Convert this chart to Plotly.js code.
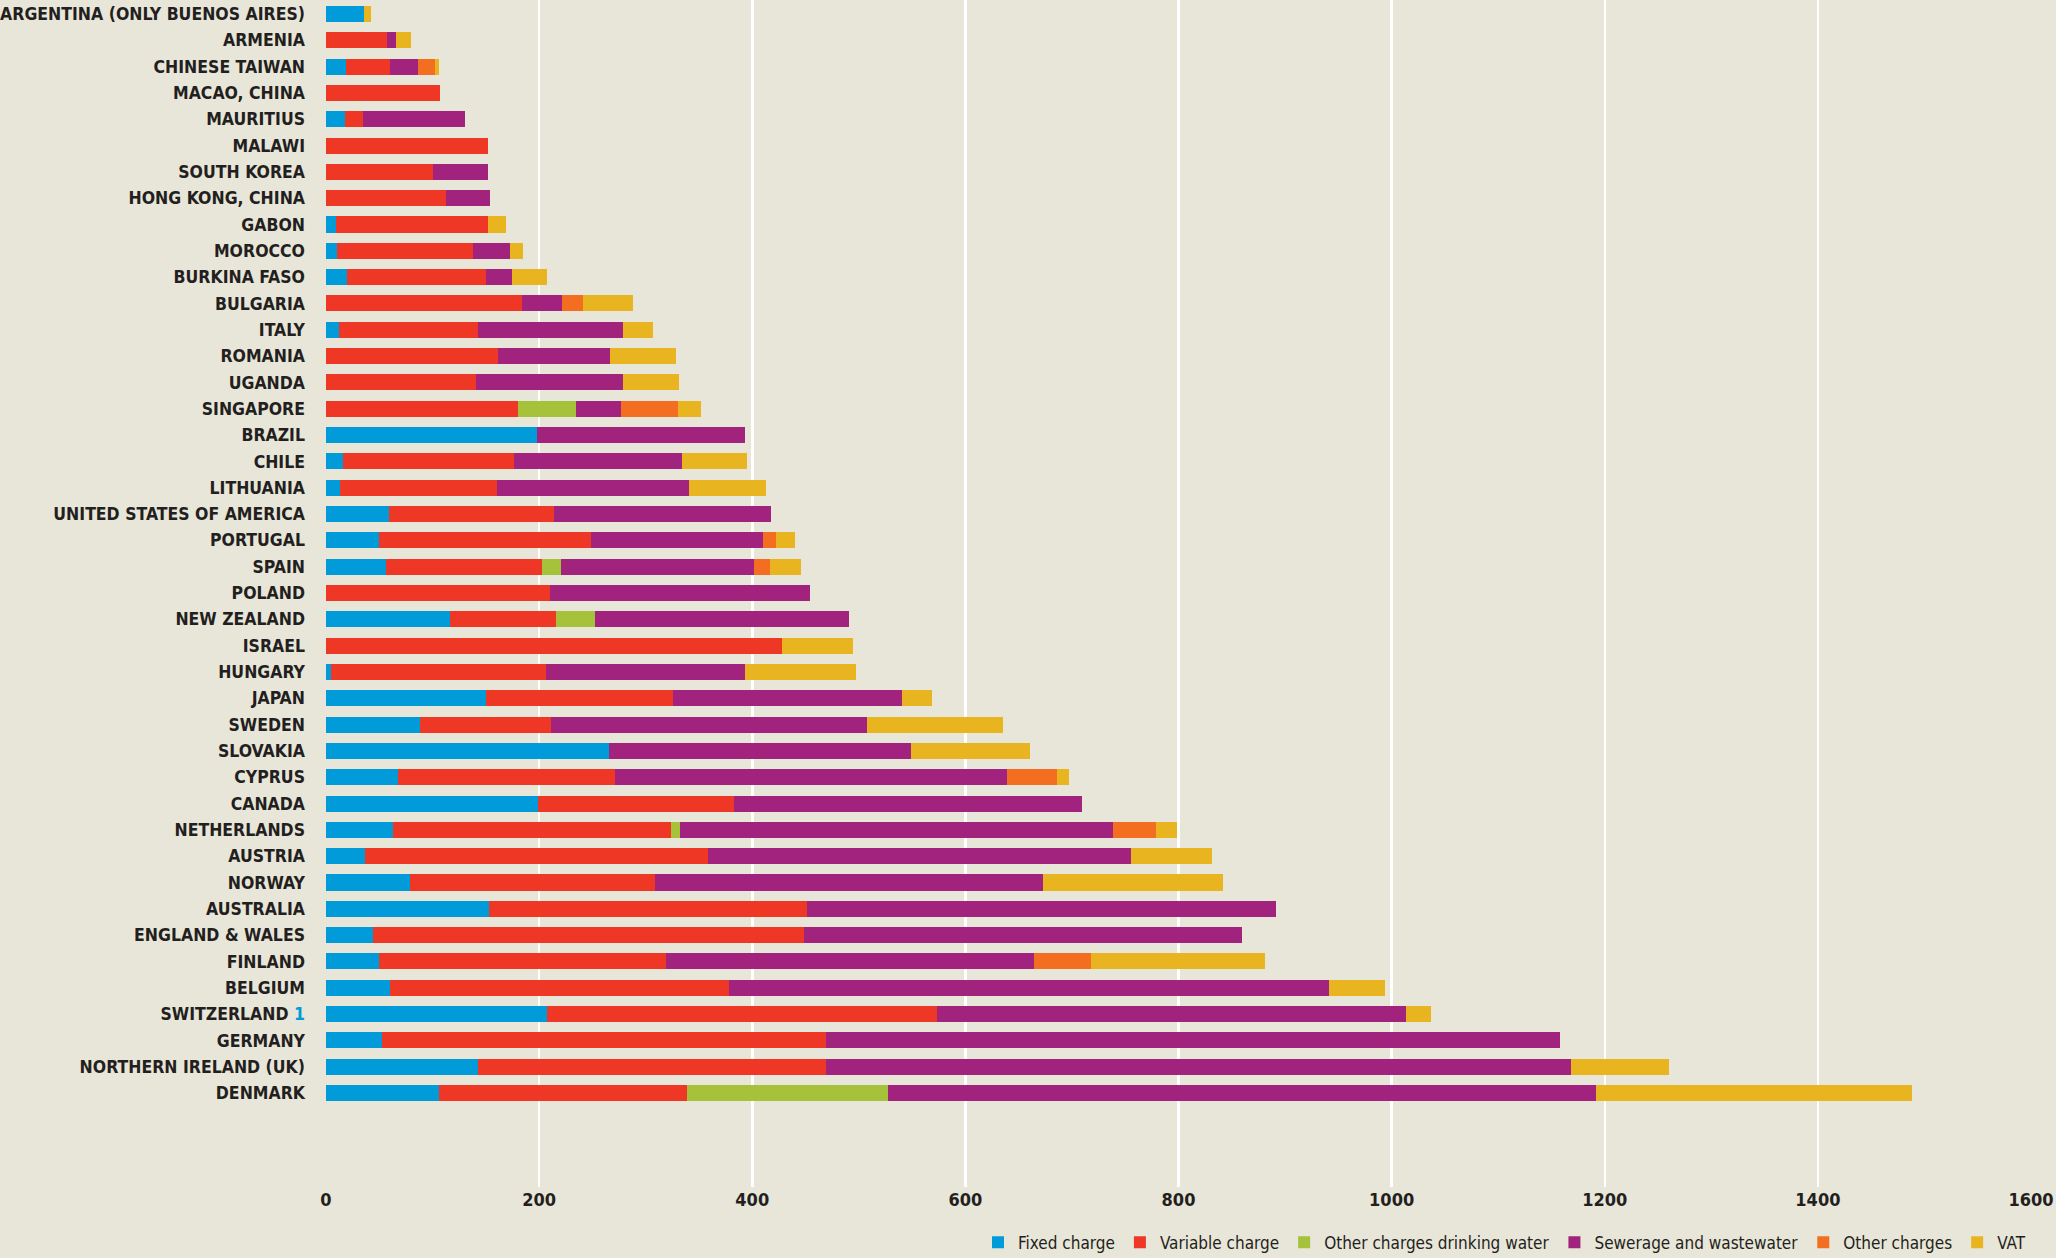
<!DOCTYPE html>
<html>
<head>
<meta charset="utf-8">
<script src="https://cdn.plot.ly/plotly-3.0.1.min.js"></script>
<style>
html,body{margin:0;padding:0;background:#e8e6d8;}
#chart{width:2056px;height:1258px;}
</style>
</head>
<body>
<div id="chart"></div>
<script>
const countries = [
  "ARGENTINA (ONLY BUENOS AIRES)","ARMENIA","CHINESE TAIWAN","MACAO, CHINA","MAURITIUS","MALAWI",
  "SOUTH KOREA","HONG KONG, CHINA","GABON","MOROCCO","BURKINA FASO","BULGARIA","ITALY","ROMANIA",
  "UGANDA","SINGAPORE","BRAZIL","CHILE","LITHUANIA","UNITED STATES OF AMERICA","PORTUGAL","SPAIN",
  "POLAND","NEW ZEALAND","ISRAEL","HUNGARY","JAPAN","SWEDEN","SLOVAKIA","CYPRUS","CANADA",
  "NETHERLANDS","AUSTRIA","NORWAY","AUSTRALIA","ENGLAND & WALES","FINLAND","BELGIUM","SWITZERLAND",
  "GERMANY","NORTHERN IRELAND (UK)","DENMARK"
];
const tickLabels = countries.map(c => c === "SWITZERLAND" ? "SWITZERLAND <span style='color:#009bd8'>1</span>" : c);

const fixedCharge = [36,0,19,0,18,0,0,0,9,10,19.6,0,12,0,0,0,197.6,16.2,12.9,59.2,49.5,56,0,116.3,0,4.3,149.7,88.3,266,67.9,199.2,63.2,36.8,78.7,153.3,44,49.8,60,207.3,52.2,142.8,106.3];
const variableCharge = [0,57,41.5,107,17,152,100,113,143,128,130.2,184.3,130.2,161.8,140.3,180.5,0,159.8,147.1,155.1,198.8,147,210.6,99.1,427.6,202.5,175.6,123.3,0,203.7,184,260.8,321.9,230.3,298.1,405,268.8,318.4,366.2,416.6,326,232.7];
const otherDrinking = [0,0,0,0,0,0,0,0,0,0,0,0,0,0,0,54.5,0,0,0,0,0,17.2,0,36.6,0,0,0,0,0,0,0,8.4,0,0,0,0,0,0,0,0,0,188.4];
const sewerage = [0,9,25.5,0,95,0,52,41,0,35,24.4,36.9,136.9,104.4,138.8,42.2,196,158.4,180.9,203,162,181,243.9,239,0,186.8,215,296.4,282.5,367.7,326.5,406.5,396.8,364.2,440.3,411,346.2,562.5,440,689.2,699.7,664.6];
const otherCharges = [0,0,16,0,0,0,0,0,0,0,0,19.6,0,0,0,52.8,0,0,0,0,12.4,15.1,0,0,0,0,0,0,0,46.9,0,40.1,0,0,0,0,53.3,0,0,0,0,0];
const vat = [6.6,13.5,4.3,0,0,0,0,0,16.5,12,33.6,46.9,28.2,62.7,51.7,22.3,0,60.9,71.6,0,17.8,29,0,0,67.3,104,28,127.6,112.5,11.2,0,20,76,168.1,0,0,163.2,53.3,23.5,0,92,296.7];
const xTicks = [0,200,400,600,800,1000,1200,1400,1600];

const seriesNames = ["Fixed charge","Variable charge","Other charges drinking water","Sewerage and wastewater","Other charges","VAT"];
const seriesValues = [fixedCharge, variableCharge, otherDrinking, sewerage, otherCharges, vat];
const seriesColors = ["#009bd8","#ee3724","#a6c23a","#a2237e","#f36e21","#e8b520"];

const traces = seriesNames.map((n, i) => ({
  type: "bar",
  orientation: "h",
  name: n,
  y: countries,
  x: seriesValues[i],
  marker: {color: seriesColors[i], line: {width: 0}},
  hoverinfo: "x+y+name"
}));

const FAM = "'DejaVu Sans Condensed', 'Liberation Sans Narrow', sans-serif";

const layout = {
  width: 2056,
  height: 1258,
  paper_bgcolor: "#e8e6d8",
  plot_bgcolor: "#e8e6d8",
  barmode: "stack",
  bargap: 0.39,
  margin: {l: 325.5, r: 25, t: 0, b: 71, autoexpand: false},
  font: {family: FAM, color: "#231f20"},
  xaxis: {
    range: [0, 1600],
    tickmode: "array",
    tickvals: xTicks,
    ticktext: xTicks.map(String),
    showgrid: true,
    gridcolor: "#ffffff",
    gridwidth: 2.5,
    zeroline: false,
    showline: false,
    ticks: "",
    tickfont: {family: FAM, size: 18, weight: "bold", color: "#231f20"},
    fixedrange: true
  },
  yaxis: {
    type: "category",
    categoryorder: "array",
    categoryarray: countries,
    range: [44.57, -0.53],
    tickmode: "array",
    tickvals: countries,
    ticktext: tickLabels,
    showgrid: false,
    zeroline: false,
    showline: false,
    ticks: "",
    ticklabelstandoff: 20,
    tickfont: {family: FAM, size: 17.5, weight: "bold", color: "#231f20"},
    fixedrange: true
  },
  showlegend: true,
  legend: {
    orientation: "h",
    x: 1,
    xanchor: "right",
    y: -0.047,
    yanchor: "middle",
    bgcolor: "rgba(0,0,0,0)",
    font: {family: FAM, size: 17, color: "#231f20"},
    traceorder: "normal",
    itemwidth: 30,
    itemclick: false
  }
};

Plotly.newPlot("chart", traces, layout, {displayModeBar: false, staticPlot: true});
</script>
</body>
</html>
